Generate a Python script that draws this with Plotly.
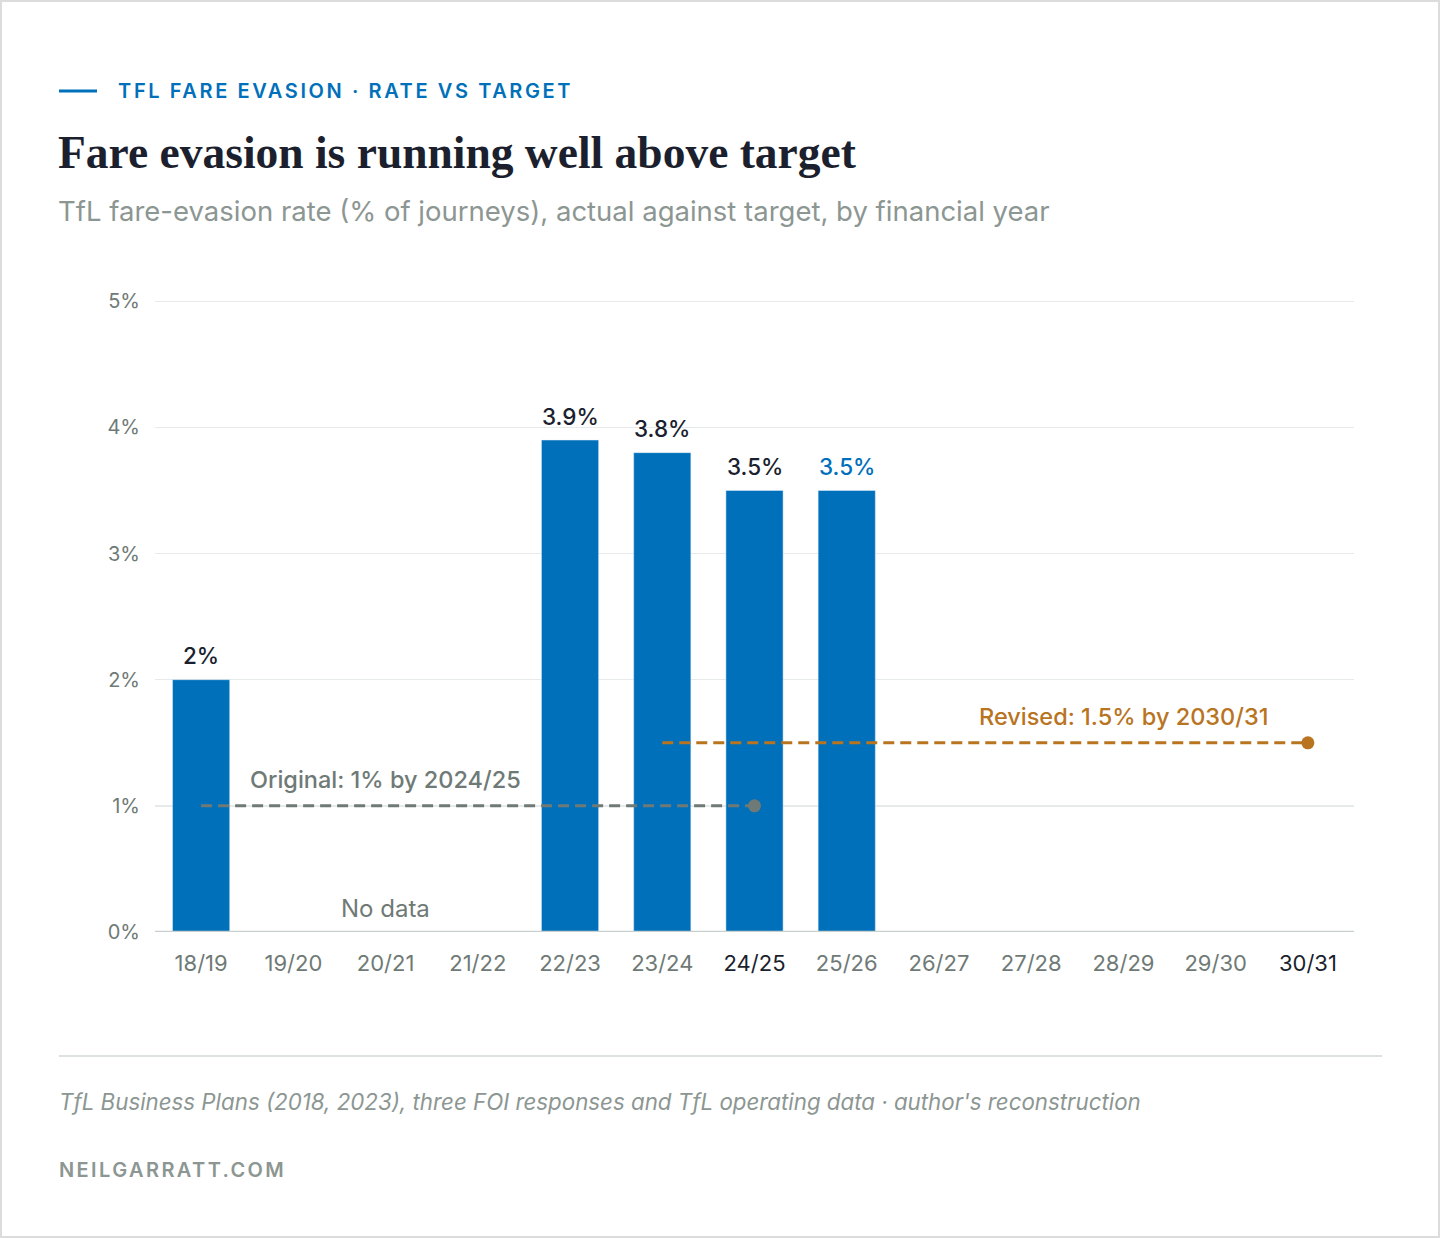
import plotly.graph_objects as go

years = ["18/19", "19/20", "20/21", "21/22", "22/23", "23/24", "24/25",
         "25/26", "26/27", "27/28", "28/29", "29/30", "30/31"]
rates = [2.0, None, None, None, 3.9, 3.8, 3.5, 3.5, None, None, None, None, None]
label_colors = ["#1b1f2e"] * 7 + ["#0070BA"] + ["#1b1f2e"] * 5
highlight_years = ["24/25", "30/31"]

orig_x = ["18/19", "24/25"]
orig_y = [1.0, 1.0]
orig_label = "Original: 1% by 2024/25"
rev_x = ["23/24", "30/31"]
rev_y = [1.5, 1.5]
rev_label = "Revised: 1.5% by 2030/31"
y_ticks = [0, 1, 2, 3, 4, 5]

W, H = 1440, 1238
L, R, T, B = 155, 86, 300, 306
PW, PH = W - L - R, H - T - B

def px(x):
    return (x - L) / PW

def py(y):
    return (H - B - y) / PH

BLUE = "#0070BA"
GREY = "#6f7a76"
ORANGE = "#B8741F"
SANS = "Inter, Lato, sans-serif"

fig = go.Figure()
fig.add_trace(go.Bar(
    x=years, y=rates, marker_color=BLUE, width=0.62,
    hoverinfo="skip",
))
fig.add_trace(go.Scatter(
    x=orig_x, y=orig_y, mode="lines+markers",
    line=dict(color=GREY, width=3, dash="11px,6px"),
    marker=dict(size=[0, 13], color=GREY, opacity=1, line=dict(width=0)),
    hoverinfo="skip",
))
fig.add_trace(go.Scatter(
    x=rev_x, y=rev_y, mode="lines+markers",
    line=dict(color=ORANGE, width=3, dash="11px,6px"),
    marker=dict(size=[0, 13], color=ORANGE, opacity=1, line=dict(width=0)),
    hoverinfo="skip",
))

ticktext = [f"<span style='color:#1b1f2e'>{y}</span>" if y in highlight_years else y for y in years]

fig.update_layout(
    width=W, height=H, margin=dict(l=L, r=R, t=T, b=B),
    paper_bgcolor="white", plot_bgcolor="white", showlegend=False,
    hovermode=False,
    xaxis=dict(type="category", categoryorder="array", categoryarray=years,
               tickvals=years, ticktext=ticktext, range=[-0.5, 12.5],
               tickfont=dict(family=SANS, size=22, color=GREY),
               showgrid=False, showline=False, zeroline=False, ticks="",
               ticklabelstandoff=16, fixedrange=True),
    yaxis=dict(range=[0, 5.01], tickvals=y_ticks, ticktext=[f"{v}%" for v in y_ticks],
               tickfont=dict(family=SANS, size=20, color=GREY),
               showgrid=True, gridcolor="#e6eaea", gridwidth=1.5,
               zeroline=False, showline=False, ticks="", ticklabelstandoff=14,
               fixedrange=True),
)

# zero line
fig.add_shape(type="line", xref="paper", yref="y", x0=0, x1=1, y0=0, y1=0,
              line=dict(color="#c9d0cf", width=2.5), layer="above")

ann = []
# bar value labels
for yr, v, c in zip(years, rates, label_colors):
    if v is None:
        continue
    ann.append(dict(text=f"{v:g}%", x=yr, y=v, xref="x", yref="y",
                    yshift=24, yanchor="middle", xanchor="center",
                    font=dict(family=SANS, size=22.5, color=c, weight=500)))
# kicker
fig.add_shape(type="line", xref="paper", yref="paper", x0=px(59), x1=px(97),
              y0=py(91), y1=py(91), line=dict(color=BLUE, width=3))
ann.append(dict(text="TFL FARE EVASION · RATE VS TARGET", x=px(345.5), y=py(91),
                xanchor="center", yanchor="middle",
                font=dict(family=SANS, size=20, color=BLUE, weight=600)))
ann.append(dict(text="Fare evasion is running well above target", x=px(56), y=py(152),
                xanchor="left", yanchor="middle",
                font=dict(family="Liberation Serif, DejaVu Serif, serif", size=45.5,
                          color="#1b1f2e", weight=700)))
ann.append(dict(text="TfL fare-evasion rate (% of journeys), actual against target, by financial year",
                x=px(56), y=py(211), xanchor="left", yanchor="middle",
                font=dict(family=SANS, size=27.5, color="#8c9692")))
# in-chart labels
ann.append(dict(text=orig_label, x="20/21", y=1.0, xref="x", yref="y",
                yshift=26, yanchor="middle", xanchor="center",
                font=dict(family=SANS, size=23.5, color=GREY, weight=500)))
ann.append(dict(text=rev_label, x="28/29", y=1.5, xref="x", yref="y",
                yshift=26, yanchor="middle", xanchor="center",
                font=dict(family=SANS, size=23.5, color=ORANGE, weight=500)))
ann.append(dict(text="No data", x="20/21", y=0, xref="x", yref="y",
                yshift=24, yanchor="middle", xanchor="center",
                font=dict(family=SANS, size=24, color=GREY)))
# footer
fig.add_shape(type="line", xref="paper", yref="paper", x0=px(59), x1=px(1382),
              y0=py(1056), y1=py(1056), line=dict(color="#dde2e1", width=2))
ann.append(dict(text="<i>TfL Business Plans (2018, 2023), three FOI responses and TfL operating data · author's reconstruction</i>",
                x=px(57), y=py(1101), xanchor="left", yanchor="middle",
                font=dict(family=SANS, size=22.3, color="#8c9692")))
ann.append(dict(text="NEILGARRATT.COM", x=px(172.5), y=py(1170), xanchor="center", yanchor="middle",
                font=dict(family=SANS, size=20, color="#8c9692", weight=600)))
# outer border
fig.add_shape(type="rect", xref="paper", yref="paper", x0=px(1), x1=px(W - 1),
              y0=py(H - 1), y1=py(1), line=dict(color="#dcdcdc", width=2))

for a in ann:
    a.setdefault("xref", "paper")
    a.setdefault("yref", "paper")
    a["showarrow"] = False
fig.update_layout(annotations=ann)

post = """
document.body.style.margin='0';
document.body.style.padding='0';
document.body.style.overflow='hidden';
document.querySelectorAll('text.annotation-text').forEach(function(t){
  var s = t.textContent;
  if (s.indexOf('TFL FARE EVASION') === 0) { t.style.letterSpacing = '2.6px'; }
  if (s === 'NEILGARRATT.COM') { t.style.letterSpacing = '2.4px'; }
});
"""

fig.write_html("out.html", post_script=post, config={"displayModeBar": False, "staticPlot": True})
